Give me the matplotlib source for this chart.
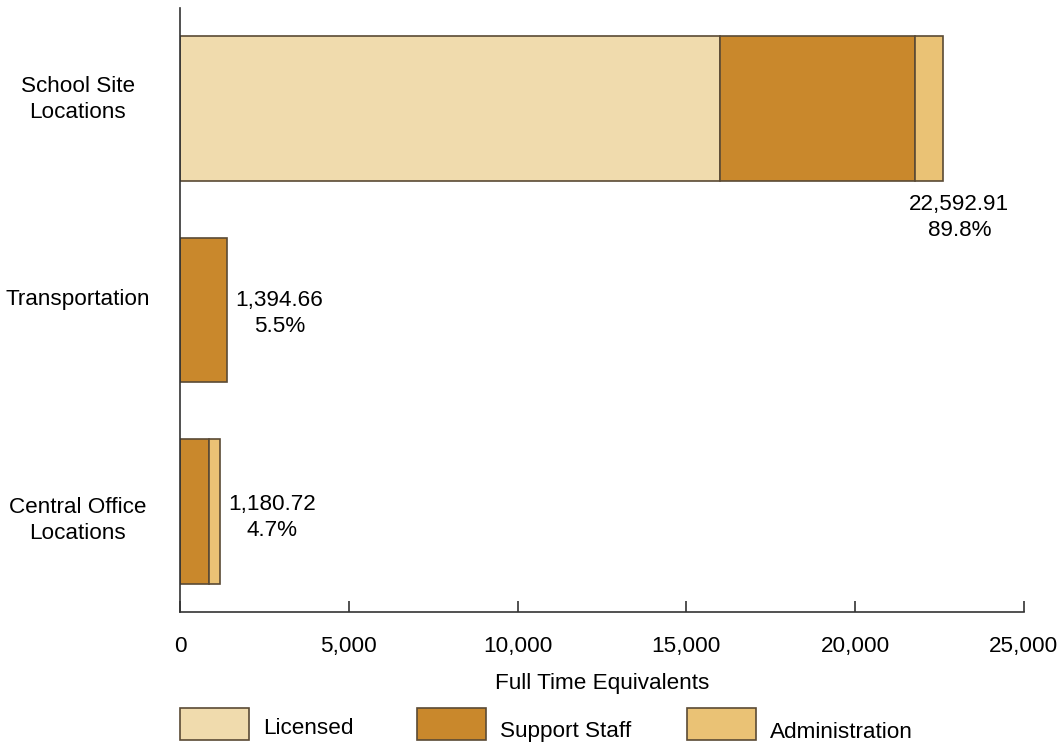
import numpy as np
import matplotlib
matplotlib.use('Agg')
import matplotlib.pyplot as plt
from matplotlib.patches import Rectangle

plt.rcParams['font.family'] = ['Liberation Sans', 'DejaVu Sans']

locations = ['School Site\nLocations', 'Transportation', 'Central Office\nLocations']
licensed = [16000.0, 0.0, 0.0]
support_staff = [5760.0, 1394.66, 870.0]
administration = [832.91, 0.0, 310.72]
total_labels = ['22,592.91\n89.8%', '1,394.66\n5.5%', '1,180.72\n4.7%']
series_names = ['Licensed', 'Support Staff', 'Administration']

colors = ['#F0DBAD', '#C9882C', '#EAC275']
edge = '#5a4a35'
fs = 16.2
ls = 1.32

fig = plt.figure(figsize=(10.59, 7.44), dpi=100)
ax = fig.add_axes([180 / 1059, 1 - 612 / 744, 844 / 1059, 604 / 744])

y = np.arange(len(locations))
left = np.zeros(len(locations))
for vals, c in zip([licensed, support_staff, administration], colors):
    vals = np.array(vals)
    mask = vals > 0
    ax.barh(y[mask], vals[mask], left=left[mask], height=0.72, color=c,
            edgecolor=edge, linewidth=1.2)
    left += vals

totals = left
label_dy = [-9, -2.5, -4.7]
for i, (tot, lab, dy) in enumerate(zip(totals, total_labels, label_dy)):
    if i == 0:
        ax.annotate(lab, (tot, i + 0.36), xytext=(12, dy), textcoords='offset points',
                    ha='center', va='top', multialignment='center', fontsize=fs,
                    linespacing=ls)
    else:
        ax.annotate(lab, (tot, i), xytext=(6, dy), textcoords='offset points',
                    ha='left', va='center', multialignment='center', fontsize=fs,
                    linespacing=ls)

ax.set_xlim(0, 25000)
ax.set_ylim(2.5, -0.5)
ax.set_xticks(np.arange(0, 25001, 5000))
ax.set_xticklabels(['{:,}'.format(v) for v in range(0, 25001, 5000)], fontsize=fs)
ax.tick_params(axis='x', direction='in', length=8, width=1.2, pad=17, color='#333333')
ax.set_yticks([])

# category names sit a little off the bar centres
label_y = [-0.045, 0.95, 2.045]
for ly, lab in zip(label_y, locations):
    ax.text(-0.121, ly, lab, transform=ax.get_yaxis_transform(), ha='center',
            va='center', multialignment='center', fontsize=fs, linespacing=ls)

for s in ['top', 'right']:
    ax.spines[s].set_visible(False)
for s in ['left', 'bottom']:
    ax.spines[s].set_color('#333333')
    ax.spines[s].set_linewidth(1.2)

ax.set_xlabel('Full Time Equivalents', fontsize=fs, labelpad=11.5)

# legend drawn as figure-level boxes with labels
W, H = 1059, 744
box_x = [180, 417, 687]
text_y = [729, 731, 733]
for bx, ty, name, c in zip(box_x, text_y, series_names, colors):
    fig.add_artist(Rectangle((bx / W, 1 - 740 / H), 69 / W, 32 / H, transform=fig.transFigure,
                             facecolor=c, edgecolor=edge, linewidth=1.2))
    fig.text((bx + 83) / W, 1 - ty / H, name, ha='left', va='center', fontsize=fs)

fig.savefig('out.png', dpi=100)
